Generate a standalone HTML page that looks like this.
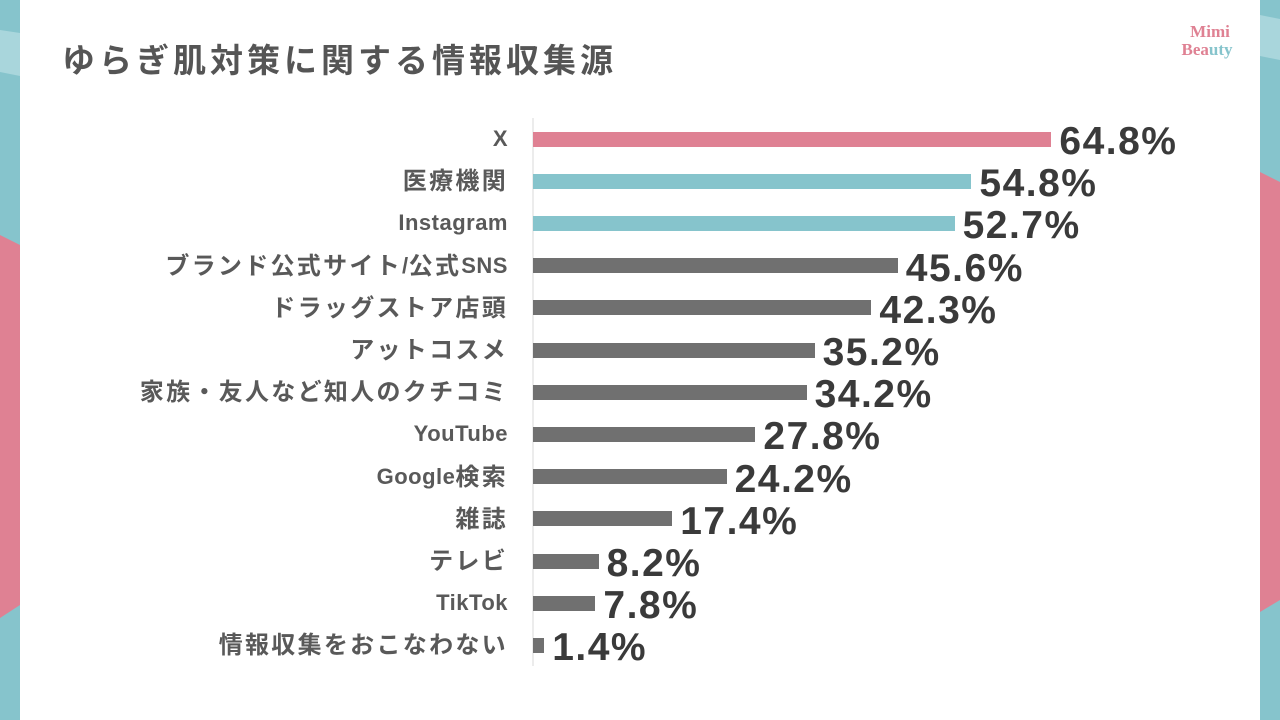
<!DOCTYPE html>
<html><head><meta charset="utf-8"><style>
body{margin:0;width:1280px;height:720px;background:#fff;position:relative;overflow:hidden;font-family:"Liberation Sans","Noto Sans CJK JP",sans-serif}
.t{position:absolute;left:62px;top:34px;font-size:33px;font-weight:bold;color:#555;letter-spacing:4px}
.lab{position:absolute;right:772px;font-size:22px;font-weight:bold;color:#595959;white-space:nowrap;line-height:26px;letter-spacing:0.5px}
.lab span{font-size:24px;letter-spacing:2.3px;position:relative;top:1px}
.bar{position:absolute;left:533px;height:15px;background:#707070}
.val{position:absolute;font-size:39px;font-weight:bold;color:#3a3a3a;line-height:40px;letter-spacing:1.5px}
</style></head><body>
<svg width="1280" height="720" style="position:absolute;left:0;top:0">
<rect x="0" y="0" width="20" height="720" fill="#86c4cc"/>
<polygon points="0,30 20,33 20,76 0,72" fill="#a9d6dc"/>
<polygon points="0,235 20,245 20,605 0,618" fill="#df8193"/>
<rect x="1260" y="0" width="20" height="720" fill="#86c4cc"/>
<polygon points="1260,15 1280,19 1280,60 1260,56" fill="#a9d6dc"/>
<polygon points="1260,172 1280,182 1280,600 1260,612" fill="#df8193"/>
<line x1="533" y1="118" x2="533" y2="666" stroke="#d9d9d9" stroke-width="1"/>
<text x="1210" y="37" font-family="Liberation Serif,serif" font-weight="bold" font-size="17" fill="#df8193" text-anchor="middle">Mimi</text>
<text x="1207" y="55" font-family="Liberation Serif,serif" font-weight="bold" font-size="17" text-anchor="middle"><tspan fill="#df8193">Bea</tspan><tspan fill="#86c4cc">uty</tspan></text>
</svg>
<div class="t">ゆらぎ肌対策に関する情報収集源</div>
<div id="c"></div>
<script>
var d=[["X",64.8,"#df8193"],["医療機関",54.8,"#86c4cc"],["Instagram",52.7,"#86c4cc"],["ブランド公式サイト/公式SNS",45.6],["ドラッグストア店頭",42.3],["アットコスメ",35.2],["家族・友人など知人のクチコミ",34.2],["YouTube",27.8],["Google検索",24.2],["雑誌",17.4],["テレビ",8.2],["TikTok",7.8],["情報収集をおこなわない",1.4]];
var h="";d.forEach(function(r,i){var cy=139+i*42.2;var w=r[1]*8;
var t=r[0].replace(/([^\x00-\x7f]+)/g,'<span>$1</span>');
h+='<div class="lab" style="top:'+(cy-13)+'px">'+t+'</div>';
h+='<div class="bar" style="top:'+(cy-7.5)+'px;width:'+w+'px;background:'+(r[2]||"#707070")+'"></div>';
h+='<div class="val" style="top:'+(cy-17)+'px;left:'+(533+w+8)+'px">'+r[1].toFixed(1)+'%</div>';});
document.getElementById("c").innerHTML=h;
</script>
</body></html>
